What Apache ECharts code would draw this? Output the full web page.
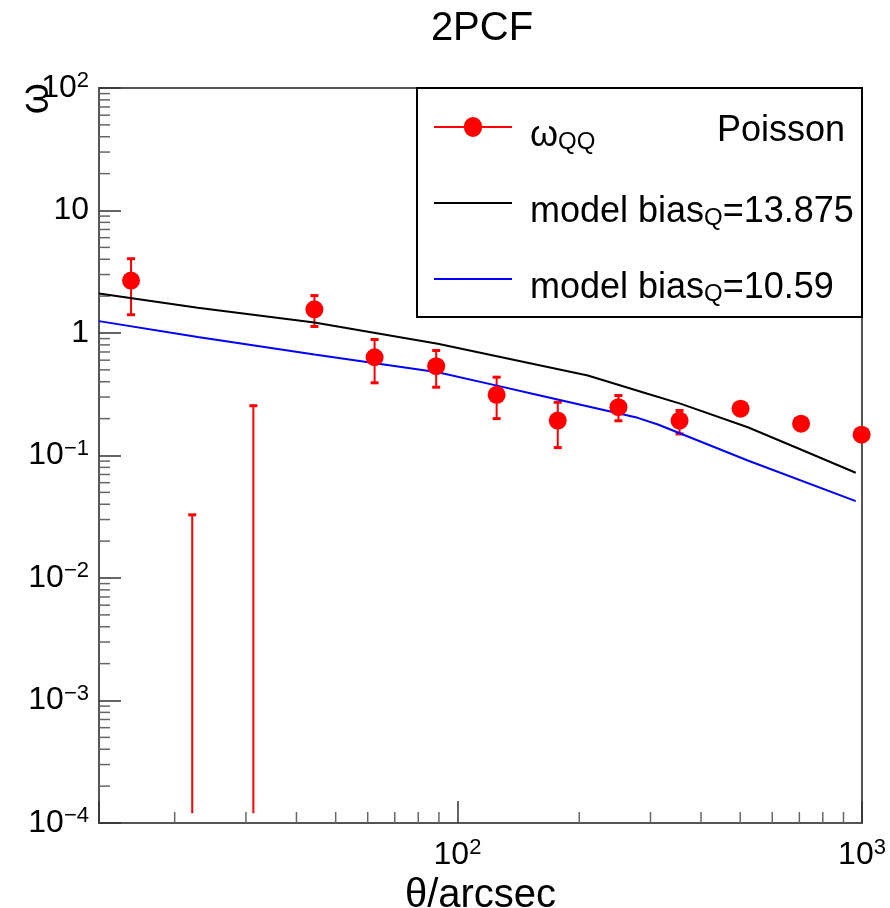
<!DOCTYPE html>
<html lang="en">

<head>
  <meta charset="UTF-8">
  <script src="https://cdn.jsdelivr.net/npm/echarts@6/dist/echarts.min.js"></script>
</head>

<body style="margin:0;background:#fff">
  <div id="pcfChart" style="width:890px;height:908px;"></div>

  <script type="text/javascript">

    // measured omega_QQ with Poisson errors (null = negative, not shown on log scale)
    var theta   = [15.6, 22.1, 31.3, 44.3, 62.4, 88.6, 125, 177, 250, 354, 501, 707, 998];
    var omega   = [2.68, null, null, 1.56, 0.634, 0.536, 0.313, 0.193, 0.248, 0.193, 0.241, 0.182, 0.148];
    var errLow  = [1.41, 1.2e-4, 1.2e-4, 1.13, 0.392, 0.361, 0.200, 0.116, 0.192, 0.150, 0.225, 0.170, 0.140];
    var errHigh = [4.04, 0.0328, 0.255, 2.02, 0.885, 0.720, 0.436, 0.272, 0.309, 0.233, 0.258, 0.195, 0.157];

    // model curves
    var modelThetaA = [13, 22.8, 44.3, 89.4, 126, 210, 295, 357, 522, 694, 965];
    var modelOmegaA = [2.10, 1.61, 1.22, 0.816, 0.643, 0.450, 0.319, 0.264, 0.170, 0.1146, 0.0723];
    var modelThetaB = [13, 22.8, 44.3, 89.4, 126, 158, 279, 313, 522, 965];
    var modelOmegaB = [1.25, 0.929, 0.667, 0.479, 0.370, 0.312, 0.203, 0.179, 0.0910, 0.0424];

    var legendLabels = {
        omegaQQ: '{m|ω}{s|QQ}',
        biasA: '{m|model bias}{s|Q}{m|=13.875}',
        biasB: '{m|model bias}{s|Q}{m|=10.59}'
    };

    var xMin = 13, xMax = 1000, yMin = 1e-4, yMax = 100;
    var FONT = '"Liberation Sans", Arial, Helvetica, sans-serif';

    function zip(xs, ys) {
        return xs.map(function (x, i) { return [x, ys[i]]; });
    }

    function supLabel(v) {
        var k = Math.round(Math.log10(v));
        if (k === 0) return '{b|1}';
        if (k === 1) return '{b|10}';
        return '{b|10}{e|' + String(k).replace('-', '\u2212') + '}';
    }

    var supRich = {
        b: { fontSize: 32, fontFamily: FONT, color: '#000', lineHeight: 36 },
        e: { fontSize: 22, fontFamily: FONT, color: '#000', lineHeight: 22, verticalAlign: 'top' }
    };

    var legendRich = {
        m: { fontSize: 36, fontFamily: FONT, color: '#000', lineHeight: 36 },
        s: { fontSize: 24, fontFamily: FONT, color: '#000', lineHeight: 24, verticalAlign: 'bottom', padding: [40, 0, 0, 0] }
    };

    // minor ticks at 2..9 x 10^k (log axes in echarts only split evenly)
    var minorTicks = [];
    [1e-4, 1e-3, 1e-2, 1e-1, 1, 10].forEach(function (d) {
        for (var m = 2; m <= 9; m++) minorTicks.push([xMin, m * d, 1]);
    });
    [10, 100].forEach(function (d) {
        for (var m = 2; m <= 9; m++) if (m * d > xMin) minorTicks.push([m * d, yMin, 0]);
    });

    function renderMinorTick(params, api) {
        var p = api.coord([api.value(0), api.value(1)]);
        var shape = api.value(2) === 0
            ? { x1: p[0], y1: p[1], x2: p[0], y2: p[1] - 11 }
            : { x1: p[0], y1: p[1], x2: p[0] + 11, y2: p[1] };
        return { type: 'line', shape: shape, style: { stroke: '#666', lineWidth: 1.5 }, silent: true };
    }

    function renderErrorBar(params, api) {
        var x = api.value(0);
        var lo = api.coord([x, api.value(1)]);
        var hi = api.coord([x, api.value(2)]);
        var cap = 4;
        var children = [
            { type: 'line', shape: { x1: lo[0], y1: lo[1], x2: hi[0], y2: hi[1] }, style: { stroke: '#ff0000', lineWidth: 2 } },
            { type: 'line', shape: { x1: hi[0] - cap, y1: hi[1], x2: hi[0] + cap, y2: hi[1] }, style: { stroke: '#ff0000', lineWidth: 3 } }
        ];
        if (api.value(3)) {
            children.push({ type: 'line', shape: { x1: lo[0] - cap, y1: lo[1], x2: lo[0] + cap, y2: lo[1] }, style: { stroke: '#ff0000', lineWidth: 3 } });
        }
        return { type: 'group', children: children };
    }

    function createChart() {
        var chart = echarts.init(document.getElementById('pcfChart'));

        var points = zip(theta, omega).filter(function (p) { return p[1] !== null; });
        var bars = theta.map(function (t, i) {
            return [t, errLow[i], errHigh[i], omega[i] === null ? 0 : 1];
        });

        var legendBase = {
            left: 434,
            padding: 0,
            itemWidth: 78,
            selectedMode: false,
            formatter: function (name) { return legendLabels[name]; },
            textStyle: { padding: [18, 0, 0, 13], rich: legendRich }
        };

        var option = {
            animation: false,
            backgroundColor: '#fff',
            title: {
                text: '2PCF',
                left: 477,
                top: 4,
                textAlign: 'center',
                textStyle: { fontSize: 40, fontWeight: 'normal', fontFamily: FONT, color: '#000' }
            },
            legend: [
                Object.assign({}, legendBase, {
                    top: 90, itemHeight: 20, data: ['omegaQQ'],
                    icon: 'path://M0,8H30A9,9 0 0 1 48,8H78V10H48A9,9 0 0 1 30,10H0Z'
                }),
                Object.assign({}, legendBase, { top: 166, itemHeight: 2, icon: 'rect', data: ['biasA'] }),
                Object.assign({}, legendBase, { top: 242, itemHeight: 2, icon: 'rect', data: ['biasB'] })
            ],
            grid: {
                left: 99, right: 28, top: 88, bottom: 85,
                outerBoundsMode: 'none',
                containLabel: false,
                show: true, borderColor: '#555', borderWidth: 2
            },
            xAxis: {
                type: 'log', logBase: 10, min: xMin, max: xMax,
                name: 'θ/arcsec', nameLocation: 'middle', nameGap: 49,
                nameTextStyle: { fontSize: 40, fontFamily: FONT, color: '#000' },
                axisLine: { lineStyle: { color: '#555', width: 2 } },
                axisTick: { inside: true, length: 22, lineStyle: { color: '#333', width: 1.5 } },
                splitLine: { show: false },
                axisLabel: {
                    margin: 14,
                    formatter: function (v) {
                        var k = Math.log10(v);
                        return Math.abs(k - Math.round(k)) < 1e-6 ? supLabel(v) : '';
                    },
                    rich: supRich
                }
            },
            yAxis: {
                type: 'log', logBase: 10, min: yMin, max: yMax,
                axisLine: { lineStyle: { color: '#555', width: 2 } },
                axisTick: { inside: true, length: 22, lineStyle: { color: '#333', width: 1.5 } },
                splitLine: { show: false },
                axisLabel: { margin: 10, formatter: supLabel, rich: supRich }
            },
            graphic: [
                {
                    type: 'rect', z: 3,
                    shape: { x: 417, y: 88, width: 445, height: 229 },
                    style: { fill: '#fff', stroke: '#000', lineWidth: 2 }
                },
                {
                    type: 'text', z: 5, x: 845, y: 131,
                    style: { text: 'Poisson', fontSize: 36, fontFamily: FONT, fill: '#000', align: 'right', verticalAlign: 'middle' }
                },
                {
                    type: 'text', z: 5, x: 37, y: 83, rotation: Math.PI / 2,
                    style: { text: 'ω', fontSize: 40, fontFamily: FONT, fill: '#000', align: 'right', verticalAlign: 'middle' }
                }
            ],
            series: [
                {
                    type: 'custom', name: 'minorTicks', silent: true,
                    renderItem: renderMinorTick,
                    encode: { x: 0, y: 1 },
                    data: minorTicks
                },
                {
                    type: 'line', name: 'biasA',
                    data: zip(modelThetaA, modelOmegaA),
                    symbol: 'none', color: '#000',
                    lineStyle: { color: '#000', width: 2 }
                },
                {
                    type: 'line', name: 'biasB',
                    data: zip(modelThetaB, modelOmegaB),
                    symbol: 'none', color: '#0000ff',
                    lineStyle: { color: '#0000ff', width: 2 }
                },
                {
                    type: 'custom', name: 'errors',
                    renderItem: renderErrorBar,
                    encode: { x: 0, y: [1, 2] },
                    data: bars,
                    z: 3
                },
                {
                    type: 'scatter', name: 'omegaQQ',
                    data: points,
                    symbol: 'circle', symbolSize: 18,
                    itemStyle: { color: '#ff0000', opacity: 1 },
                    clip: false,
                    z: 4
                }
            ]
        };

        chart.setOption(option);
    }
    createChart();
  </script>
</body>

</html>
